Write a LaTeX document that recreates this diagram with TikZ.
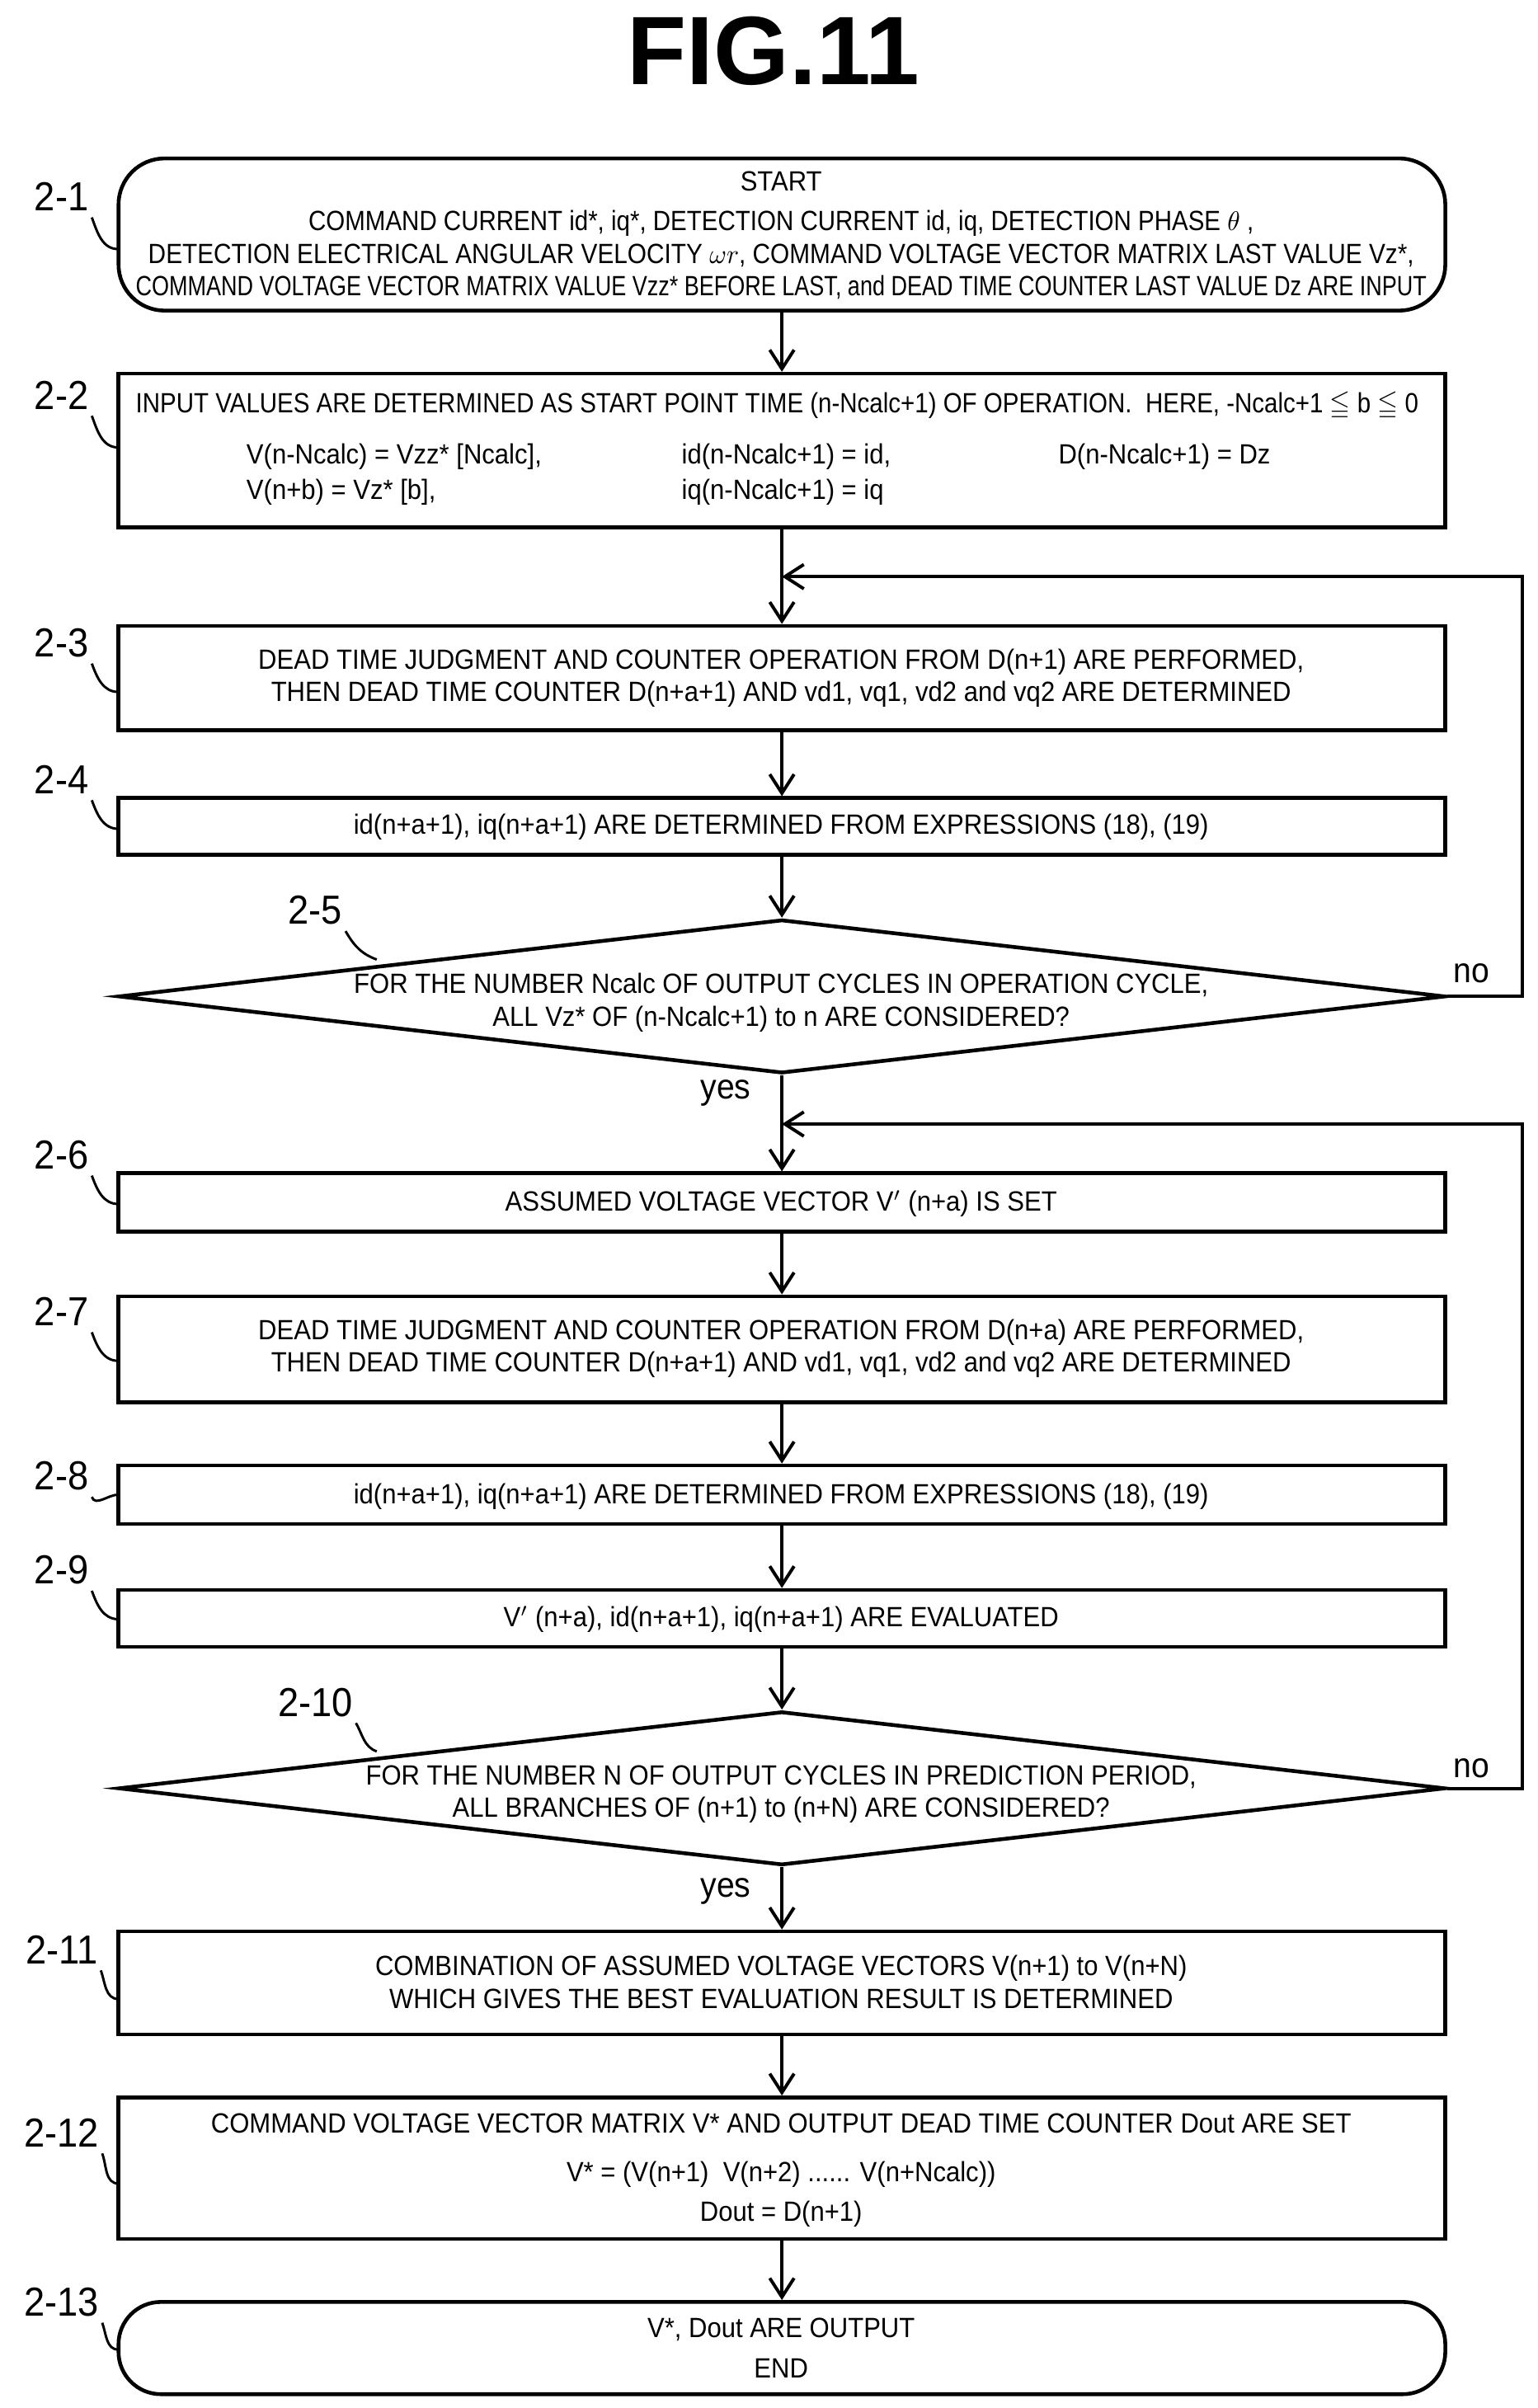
\documentclass[tikz,border=0pt]{standalone}
\usepackage{fontspec}
\usepackage{amssymb}
\setmainfont{Liberation Sans}[FakeStretch=0.92]
\newfontfamily\titlefont{Liberation Sans}
\usetikzlibrary{arrows.meta,shapes.geometric}
\tikzset{
	stepbox/.style={draw,line width=1.4pt,minimum width=17.26cm,align=center,inner sep=0pt},
	term/.style={stepbox,rounded corners=0.6cm},
	cond/.style={draw,line width=1.4pt,diamond,aspect=8.63,minimum width=17.26cm,minimum height=2cm,inner sep=0pt},
	lbl/.style={font=\fontsize{15}{15}\selectfont},
	txt/.style={font=\fontsize{10.3}{12}\selectfont,align=center,inner sep=0pt},
	squeeze/.style={transform shape,xscale=#1},
	flow/.style={line width=1.2pt,-{Straight Barb[length=7pt,width=9pt,line width=1.2pt]}},
	lead/.style={line width=0.9pt}
}
\begin{document}
\begin{tikzpicture}[x=0.02cm,y=-0.02cm]
\useasboundingbox (0,0) rectangle (1000,1566);

\node[font=\titlefont\bfseries\fontsize{36}{36}\selectfont] (title) at (503,33) {FIG.11};

% boxes
\node[term,minimum height=1.98cm] (b1) at (508.5,152.5) {};
\node[stepbox,minimum height=2cm] (b2) at (508.5,293) {};
\node[stepbox,minimum height=1.36cm] (b3) at (508.5,441) {};
\node[stepbox,minimum height=0.74cm] (b4) at (508.5,537.5) {};
\node[cond] (d5) at (508.5,648) {};
\node[stepbox,minimum height=0.76cm] (b6) at (508.5,782) {};
\node[stepbox,minimum height=1.38cm] (b7) at (508.5,877.5) {};
\node[stepbox,minimum height=0.76cm] (b8) at (508.5,972) {};
\node[stepbox,minimum height=0.74cm] (b9) at (508.5,1052.5) {};
\node[cond] (d10) at (508.5,1163) {};
\node[stepbox,minimum height=1.34cm] (b11) at (508.5,1289.5) {};
\node[stepbox,minimum height=1.84cm] (b12) at (508.5,1410) {};
\node[term,minimum height=1.2cm,rounded corners=0.55cm] (b13) at (508.5,1527) {};

% texts
\node[txt] (t1a) at (508,118) {START};
\node[txt,squeeze=0.95] (t1b) at (508,145) {COMMAND CURRENT id*, iq*, DETECTION CURRENT id, iq, DETECTION PHASE $\theta$ ,};
\node[txt,squeeze=0.96] (t1c) at (508,166) {DETECTION ELECTRICAL ANGULAR VELOCITY $\omega r$, COMMAND VOLTAGE VECTOR MATRIX LAST VALUE Vz*,};
\node[txt,squeeze=0.87] (t1d) at (508,187) {COMMAND VOLTAGE VECTOR MATRIX VALUE Vzz* BEFORE LAST, and DEAD TIME COUNTER LAST VALUE Dz ARE INPUT};
\node[txt,anchor=west,squeeze=0.95] (t2a) at (88,264) {INPUT VALUES ARE DETERMINED AS START POINT TIME (n-Ncalc+1) OF OPERATION.\ \ HERE, -Ncalc+1 $\leqq$ b $\leqq$ 0};
\node[txt,anchor=west] (t2b) at (160,297) {V(n-Ncalc) = Vzz* [Ncalc],};
\node[txt,anchor=west] (t2c) at (160,320) {V(n+b) = Vz* [b],};
\node[txt,anchor=west] (t2d) at (443,297) {id(n-Ncalc+1) = id,};
\node[txt,anchor=west] (t2e) at (443,320) {iq(n-Ncalc+1) = iq};
\node[txt,anchor=west] (t2f) at (688,297) {D(n-Ncalc+1) = Dz};
\node[txt] (t3) at (508,441) {DEAD TIME JUDGMENT AND COUNTER OPERATION FROM D(n+1) ARE PERFORMED,\\THEN DEAD TIME COUNTER D(n+a+1) AND vd1, vq1, vd2 and vq2 ARE DETERMINED};
\node[txt] (t4) at (508,538) {id(n+a+1), iq(n+a+1) ARE DETERMINED FROM EXPRESSIONS (18), (19)};
\node[txt] (t5) at (508,652) {FOR THE NUMBER Ncalc OF OUTPUT CYCLES IN OPERATION CYCLE,\\ALL Vz* OF (n-Ncalc+1) to n ARE CONSIDERED?};
\node[txt] (t6) at (508,783) {ASSUMED VOLTAGE VECTOR V$'$ (n+a) IS SET};
\node[txt] (t7) at (508,877) {DEAD TIME JUDGMENT AND COUNTER OPERATION FROM D(n+a) ARE PERFORMED,\\THEN DEAD TIME COUNTER D(n+a+1) AND vd1, vq1, vd2 and vq2 ARE DETERMINED};
\node[txt] (t8) at (508,973) {id(n+a+1), iq(n+a+1) ARE DETERMINED FROM EXPRESSIONS (18), (19)};
\node[txt] (t9) at (508,1053) {V$'$ (n+a), id(n+a+1), iq(n+a+1) ARE EVALUATED};
\node[txt] (t10) at (508,1167) {FOR THE NUMBER N OF OUTPUT CYCLES IN PREDICTION PERIOD,\\ALL BRANCHES OF (n+1) to (n+N) ARE CONSIDERED?};
\node[txt] (t11) at (508,1289) {COMBINATION OF ASSUMED VOLTAGE VECTORS V(n+1) to V(n+N)\\WHICH GIVES THE BEST EVALUATION RESULT IS DETERMINED};
\node[txt] (t12a) at (508,1381) {COMMAND VOLTAGE VECTOR MATRIX V* AND OUTPUT DEAD TIME COUNTER Dout ARE SET};
\node[txt] (t12b) at (508,1414) {V* = (V(n+1)\ \ V(n+2) ...... V(n+Ncalc))};
\node[txt] (t12c) at (508,1440) {Dout = D(n+1)};
\node[txt] (t13) at (508,1527) {V*, Dout ARE OUTPUT\\[3pt]END};

% step labels
\node[lbl] (l1) at (40,128) {2-1};
\node[lbl] (l2) at (40,257) {2-2};
\node[lbl] (l3) at (40,418) {2-3};
\node[lbl] (l4) at (40,507) {2-4};
\node[lbl] (l5) at (205,592) {2-5};
\node[lbl] (l6) at (40,751) {2-6};
\node[lbl] (l7) at (40,853) {2-7};
\node[lbl] (l8) at (40,960) {2-8};
\node[lbl] (l9) at (40,1021) {2-9};
\node[lbl] (l10) at (205,1107) {2-10};
\node[lbl] (l11) at (40,1268) {2-11};
\node[lbl] (l12) at (40,1387) {2-12};
\node[lbl] (l13) at (40,1497) {2-13};

\foreach \n/\y in {l1/162,l2/291,l3/450,l4/539,l6/783,l7/885,l8/972,l9/1053,l11/1300,l12/1420,l13/1528} {
	\draw[lead] (\n.south east) ++(-4,-2) to[out=-70,in=180] (77,\y);
};
\draw[lead] (l5.south east) ++(-4,-2) to[out=-60,in=160] (245,624);
\draw[lead] (l10.south east) ++(-4,-2) to[out=-60,in=160] (245,1139);

% connectors
\coordinate (m1) at (508.5,375);
\coordinate (m2) at (508.5,731);
\coordinate (r1) at (990,648);
\coordinate (r2) at (990,375);
\coordinate (r3) at (990,1163);
\coordinate (r4) at (990,731);
\draw[flow] (b1) -- (b2);
\draw[flow] (b2) -- (b3);
\draw[flow] (b3) -- (b4);
\draw[flow] (b4) -- (d5);
\draw[flow] (d5) -- (b6);
\draw[flow] (b6) -- (b7);
\draw[flow] (b7) -- (b8);
\draw[flow] (b8) -- (b9);
\draw[flow] (b9) -- (d10);
\draw[flow] (d10) -- (b11);
\draw[flow] (b11) -- (b12);
\draw[flow] (b12) -- (b13);
\draw[flow] (d5.east) -- (r1) -- (r2) -- (m1);
\draw[flow] (d10.east) -- (r3) -- (r4) -- (m2);

\node[lbl,font=\fontsize{13}{13}\selectfont] (no1) at (957,633) {no};
\node[lbl,font=\fontsize{13}{13}\selectfont] (no2) at (957,1150) {no};
\node[lbl,font=\fontsize{13}{13}\selectfont] (yes1) at (472,711) {yes};
\node[lbl,font=\fontsize{13}{13}\selectfont] (yes2) at (472,1230) {yes};
\end{tikzpicture}
\end{document}
